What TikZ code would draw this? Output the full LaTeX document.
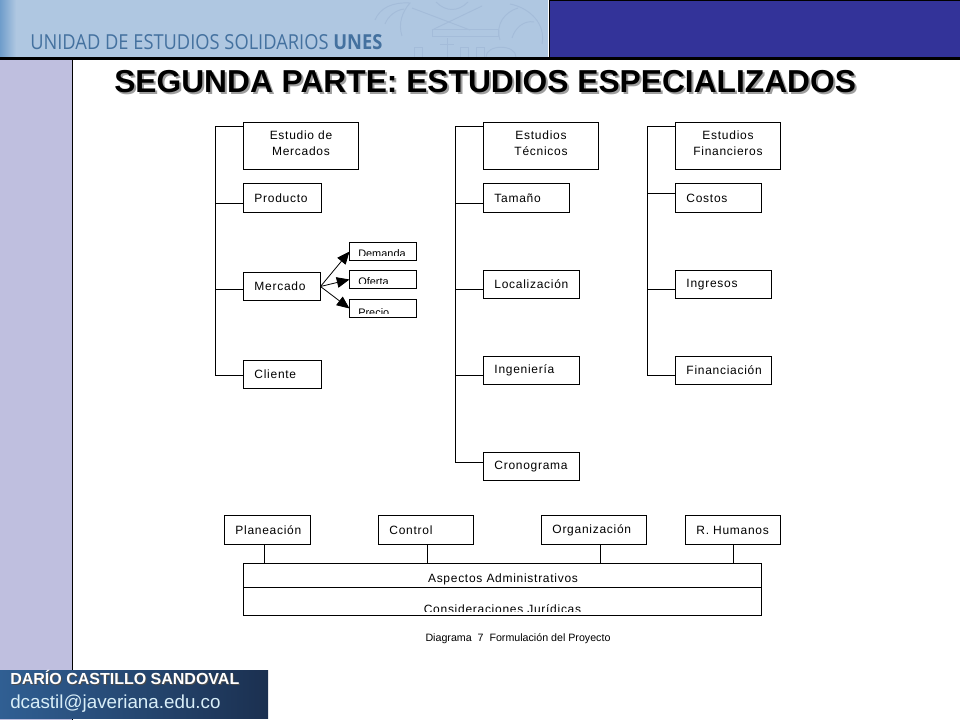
\documentclass[tikz,border=0pt]{standalone}
\usepackage{fontspec}
\setmainfont{Liberation Sans}
\newfontfamily\diag[LetterSpace=6]{Liberation Sans}
\newfontfamily\capf{Liberation Sans}
\newfontfamily\headf[FakeStretch=0.885]{Open Sans}
\usetikzlibrary{arrows.meta}
\definecolor{headbg}{HTML}{AFC7E1}
\definecolor{headl}{HTML}{6F9DCB}
\definecolor{navy}{HTML}{333399}
\definecolor{side}{HTML}{BFBFDF}
\definecolor{foota}{HTML}{305F93}
\definecolor{footb}{HTML}{1B3050}
\definecolor{headtxt}{HTML}{44719F}
\definecolor{crest}{HTML}{A4BCD9}
\definecolor{mail}{HTML}{D8EEF8}
\tikzset{
 x=0.75pt,y=-0.75pt,
 wire/.style={draw=black,line width=0.75pt},
 boxn/.style={draw=black,line width=0.75pt,fill=white,rectangle,inner sep=0pt,outer sep=0pt,font=\diag\fontsize{9}{12}\selectfont},
 clipt/.style={inner sep=0pt,font=\diag\fontsize{9}{12}\selectfont,anchor=base west},
 clips/.style={inner sep=0pt,font=\capf\fontsize{8.2}{10}\selectfont,anchor=base west},
 point/.style={-{Triangle[length=9.5pt,width=8pt]},line width=0.6pt},
}
% name, x1, y1, x2, y2, text (left-aligned, 11px pad)
\newcommand\lbx[6]{\node[boxn,anchor=north west,minimum width={(#4-#2)*0.75pt},minimum height={(#5-#3)*0.75pt},text width={(#4-#2-11)*0.75pt},align=left] (#1) at (#2+.5,#3+.5) {\hspace*{4.1pt}#6};}
\newcommand\cbx[6]{\node[boxn,anchor=north west,minimum width={(#4-#2)*0.75pt},minimum height={(#5-#3)*0.75pt}] (#1) at (#2+.5,#3+.5) {\parbox{70pt}{\centering #6\par\vspace{4.5pt}}};}
\begin{document}
\begin{tikzpicture}
\useasboundingbox (0,0) rectangle (960,720);
\fill[white] (0,0) rectangle (960,720);
% frame
\fill[side] (0,58) rectangle (72,720);
\draw[black,line width=0.75pt] (72.5,58) -- (72.5,720);
\fill[headbg] (0,0) rectangle (548,57);
\shade[left color=headl,right color=headbg] (0,0) rectangle (16,57);
% crest watermark
\begin{scope}[crest,line width=0.7pt]
\draw (375,20) .. controls (380,8) and (392,2) .. (410,3) .. controls (402,12) and (398,24) .. (402,36);
\draw (385,24) .. controls (388,16) and (396,10) .. (404,9);
\draw (412,8) -- (470,30);
\draw (482,6) -- (432,30);
\draw (432,29) -- (498,29) -- (498,36) -- (432,36) -- cycle;
\draw (510,4) .. controls (530,8) and (546,24) .. (542,44);
\draw (500,40) .. controls (495,24) and (505,12) .. (518,8);
\draw (512,38) .. controls (515,28) and (524,20) .. (534,22);
\draw (436,2) .. controls (446,12) and (458,12) .. (468,2);
\draw (447,57) -- (447,38) (440,44) -- (454,44);
\draw (414,57) -- (414,47) -- (422,47) -- (422,57);
\draw (460,57) -- (460,47) -- (468,47) -- (468,57);
\draw (476,57) -- (476,47) -- (484,47) -- (484,57);
\draw (486,57) .. controls (486,44) and (516,44) .. (516,57);
\end{scope}
\node[anchor=base west,inner sep=0pt,text=headtxt,font=\headf\fontsize{15.5}{17}\selectfont] (head) at (30,50) {UNIDAD DE ESTUDIOS SOLIDARIOS \textbf{UNES}};
\fill[navy] (549,1) rectangle (960,58);
\draw[black,line width=0.75pt] (549,0.5) -- (960,0.5) (549,0) -- (549,58);
\fill[black] (0,57) rectangle (960,60);
% title
\node[anchor=base west,inner sep=0pt,text=black!38,font=\bfseries\fontsize{23.8}{28}\selectfont] (titleshadow) at (116,95) {SEGUNDA PARTE: ESTUDIOS ESPECIALIZADOS};
\node[anchor=base west,inner sep=0pt,text=black,font=\bfseries\fontsize{23.8}{28}\selectfont] (title) at (114,93) {SEGUNDA PARTE: ESTUDIOS ESPECIALIZADOS};
% footer
\shade[left color=foota,right color=footb] (0,670) rectangle (268,718);
\node[anchor=base west,inner sep=0pt,text=black!70,font=\bfseries\fontsize{12}{14}\selectfont] (nameshadow) at (11,685) {DARÍO CASTILLO SANDOVAL};
\node[anchor=base west,inner sep=0pt,text=white,font=\bfseries\fontsize{12}{14}\selectfont] (name) at (10,684) {DARÍO CASTILLO SANDOVAL};
\node[anchor=base west,inner sep=0pt,text=mail,font=\fontsize{14.1}{16}\selectfont] (mailaddr) at (10,708) {dcastil@javeriana.edu.co};
% column 1
\cbx{m0}{243}{122}{358}{169}{Estudio de\\Mercados}
\lbx{m1}{243}{183}{321}{212}{Producto}
\lbx{m2}{243}{272}{320}{300}{Mercado}
\lbx{m3}{243}{360}{321}{388}{Cliente}
\coordinate (ms) at (215.5,126.5);
\coordinate (mj1) at (215.5,203.5);
\coordinate (mj2) at (215.5,289.5);
\coordinate (mj3) at (215.5,375.5);
\draw[wire] (m0.west |- ms) -- (ms) -- (mj3) -- (m3.west |- mj3);
\draw[wire] (mj1) -- (m1.west |- mj1);
\draw[wire] (mj2) -- (m2.west |- mj2);
% sub boxes
\node[boxn,anchor=north west,minimum width=50.25pt,minimum height=13.5pt] (dem) at (349.5,242.5) {};
\node[boxn,anchor=north west,minimum width=50.25pt,minimum height=13.5pt] (ofe) at (349.5,270.5) {};
\node[boxn,anchor=north west,minimum width=50.25pt,minimum height=13.5pt] (pre) at (349.5,299.5) {};
\begin{scope}
\clip (350,243) rectangle (416,256);
\node[clips] (demt) at (358,257.5) {Demanda};
\end{scope}
\begin{scope}
\clip (350,271) rectangle (416,284);
\node[clips] (ofet) at (358,286) {Oferta};
\end{scope}
\begin{scope}
\clip (350,300) rectangle (416,313.5);
\node[clips] (pret) at (358,316) {Precio};
\end{scope}
\draw[point] (m2.east) -- (dem.west);
\draw[point] (m2.east) -- (ofe.west);
\draw[point] (m2.east) -- (pre.west);
% column 2
\cbx{t0}{483}{122}{598}{169}{Estudios\\Técnicos}
\lbx{t1}{483}{183}{569}{212}{Tamaño}
\lbx{t2}{483}{270}{579}{298}{Localización}
\lbx{t3}{483}{356}{579}{384}{Ingeniería}
\lbx{t4}{483}{452}{579}{480}{Cronograma}
\coordinate (ts) at (455.5,126.5);
\coordinate (tj1) at (455.5,203.5);
\coordinate (tj2) at (455.5,289.5);
\coordinate (tj3) at (455.5,375.5);
\coordinate (tj4) at (455.5,462.5);
\draw[wire] (t0.west |- ts) -- (ts) -- (tj4) -- (t4.west |- tj4);
\draw[wire] (tj1) -- (t1.west |- tj1);
\draw[wire] (tj2) -- (t2.west |- tj2);
\draw[wire] (tj3) -- (t3.west |- tj3);
% column 3
\cbx{f0}{675}{122}{780}{169}{Estudios\\Financieros}
\lbx{f1}{675}{183}{761}{212}{Costos}
\lbx{f2}{675}{270}{771}{298}{Ingresos}
\lbx{f3}{675}{356}{771}{384}{Financiación}
\coordinate (fs) at (647.5,126.5);
\coordinate (fj1) at (647.5,193.5);
\coordinate (fj2) at (647.5,289.5);
\coordinate (fj3) at (647.5,375.5);
\draw[wire] (f0.west |- fs) -- (fs) -- (fj3) -- (f3.west |- fj3);
\draw[wire] (fj1) -- (f1.west |- fj1);
\draw[wire] (fj2) -- (f2.west |- fj2);
% bottom
\lbx{b1}{224}{515}{310}{544}{Planeación}
\lbx{b2}{378}{515}{473}{544}{Control}
\lbx{b3}{541}{515}{646}{544}{Organización}
\lbx{b4}{685}{515}{780}{544}{R. Humanos}
\node[boxn,anchor=north west,minimum width=388.5pt,minimum height=18pt] (adm) at (243.5,563.5) {};
\node[boxn,anchor=north west,minimum width=388.5pt,minimum height=21pt] (jur) at (243.5,587.5) {};
\node[clipt,anchor=base] (admt) at (503,582) {Aspectos Administrativos};
\begin{scope}
\clip (244,588) rectangle (760,611);
\node[clipt,anchor=base] (jurt) at (502.5,613) {Consideraciones Jurídicas};
\end{scope}
\coordinate (s1) at (264.5,544);\coordinate (s2) at (427.5,544);\coordinate (s3) at (600.5,544);\coordinate (s4) at (733.5,544);
\draw[wire] (s1) -- (s1 |- adm.north);
\draw[wire] (s2) -- (s2 |- adm.north);
\draw[wire] (s3) -- (s3 |- adm.north);
\draw[wire] (s4) -- (s4 |- adm.north);
\node[anchor=base,inner sep=0pt,font=\capf\fontsize{8}{10}\selectfont] (cap) at (518,641) {Diagrama\ \ 7\ \ Formulación del Proyecto};
\end{tikzpicture}
\end{document}
